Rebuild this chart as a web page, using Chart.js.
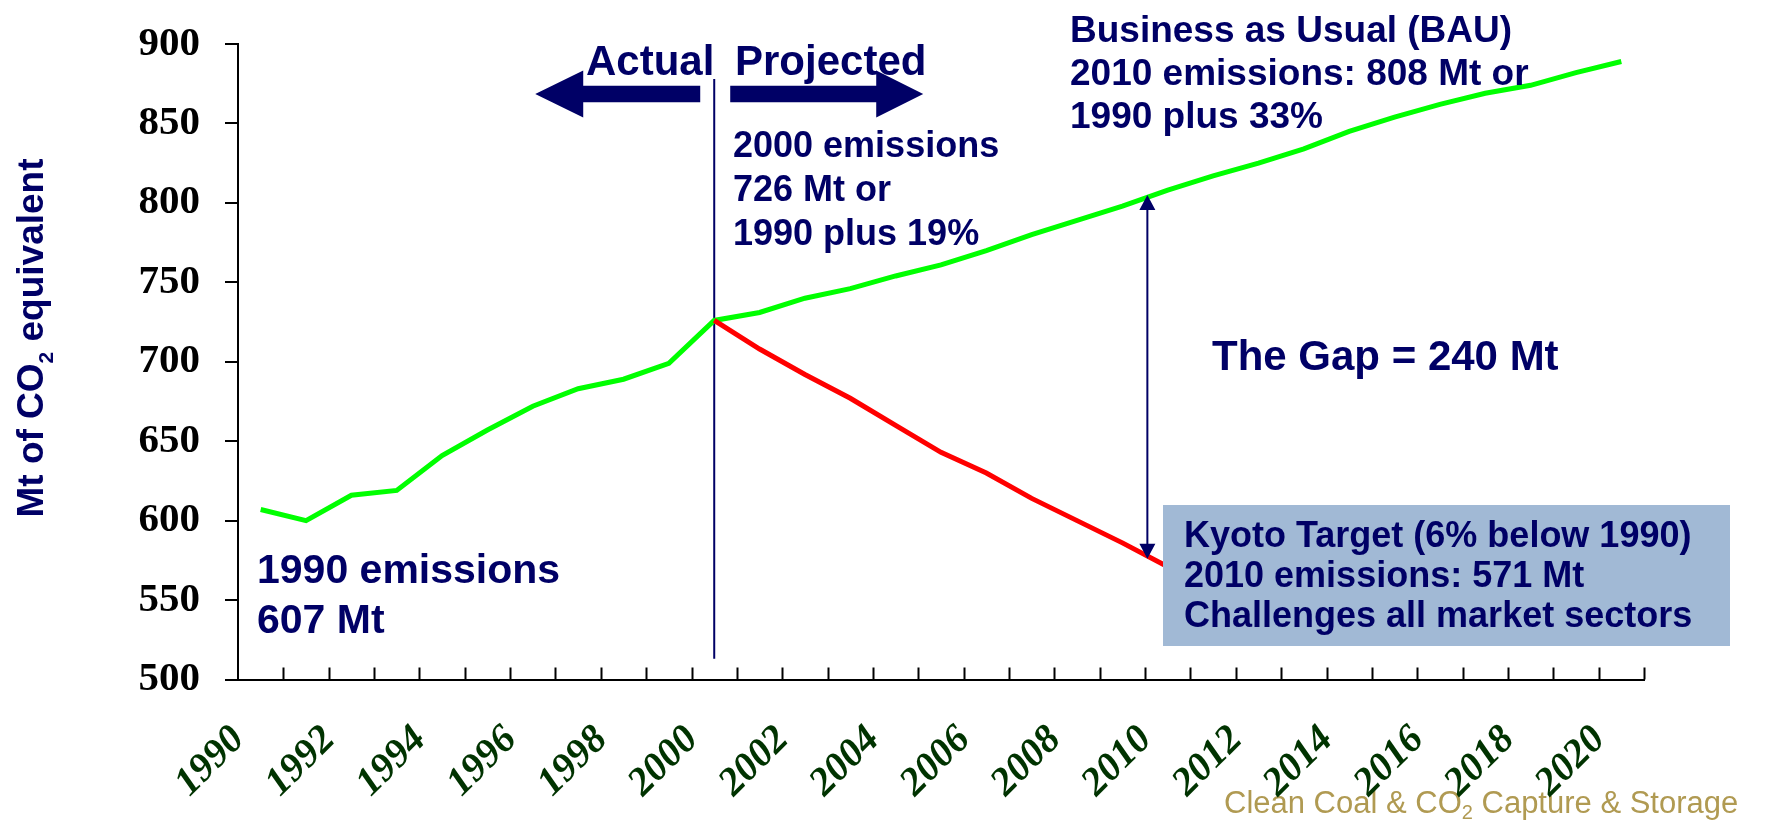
<!DOCTYPE html>
<html>
<head>
<meta charset="utf-8">
<script src="https://cdn.jsdelivr.net/npm/chart.js@4.4.1/dist/chart.umd.min.js"></script>
<style>
    html, body { margin: 0; padding: 0; background: #fff; }
</style>
</head>
<body>
<canvas id="myChart" width="1771" height="820"></canvas>

<script>
    // data (Mt of CO2 equivalent)
    var years = ['1990', '1991', '1992', '1993', '1994', '1995', '1996', '1997', '1998', '1999',
        '2000', '2001', '2002', '2003', '2004', '2005', '2006', '2007', '2008', '2009',
        '2010', '2011', '2012', '2013', '2014', '2015', '2016', '2017', '2018', '2019', '2020'];
    var bauValues = [607, 600, 616, 619, 641, 657, 672, 683, 689, 699,
        726, 731, 740, 746, 754, 761, 770, 780, 789, 798,
        808, 817, 825, 834, 845, 854, 862, 869, 874, 882, 889];
    var kyotoValues = [null, null, null, null, null, null, null, null, null, null,
        726, 708, 692, 677, 660, 643, 630, 614, 600, 586,
        571, null, null, null, null, null, null, null, null, null, null];
    var yTicks = [500, 550, 600, 650, 700, 750, 800, 850, 900];

    var navy = '#000066';
    var sans = '"Liberation Sans", Arial, sans-serif';

    // draws text pieces one after another, [text, font, dy]
    function textParts(ctx, parts, x, y) {
        parts.forEach(function (p) {
            ctx.font = p[1];
            ctx.fillText(p[0], x, y + (p[2] || 0));
            x += ctx.measureText(p[0]).width;
        });
    }
    function partsWidth(ctx, parts) {
        var w = 0;
        parts.forEach(function (p) { ctx.font = p[1]; w += ctx.measureText(p[0]).width; });
        return w;
    }
    function lines(ctx, arr, x, y, gap, font) {
        ctx.font = font;
        for (var i = 0; i < arr.length; i++) ctx.fillText(arr[i], x, y + i * gap);
    }

    var notes = {
        id: 'notes',
        beforeDraw: function (chart) {
            var ctx = chart.ctx;
            ctx.save();
            ctx.fillStyle = '#b09a52';
            ctx.textAlign = 'left';
            ctx.textBaseline = 'alphabetic';
            textParts(ctx, [['Clean Coal & CO', '31px ' + sans], ['2', '20px ' + sans, 6],
                [' Capture & Storage', '31px ' + sans]], 1224, 813);
            ctx.restore();
        },
        beforeDatasetsDraw: function (chart) {
            var ctx = chart.ctx, xs = chart.scales.x, ys = chart.scales.y;
            var d = xs.getPixelForValue(10);
            ctx.save();
            ctx.strokeStyle = navy;
            ctx.lineWidth = 2;
            ctx.beginPath();
            ctx.moveTo(d, 79);
            ctx.lineTo(d, ys.getPixelForValue(513));
            ctx.stroke();
            ctx.restore();
        },
        afterDatasetsDraw: function (chart) {
            var ctx = chart.ctx, xs = chart.scales.x, ys = chart.scales.y;
            var area = chart.chartArea;
            ctx.save();

            // inward tick marks on the year axis
            ctx.strokeStyle = '#000';
            ctx.lineWidth = 2;
            ctx.beginPath();
            for (var i = 1; i <= years.length; i++) {
                var tx = Math.round(xs.getPixelForValue(i - 0.5)) + 0.5;
                ctx.moveTo(tx, area.bottom);
                ctx.lineTo(tx, area.bottom - 12);
            }
            ctx.stroke();

            // Actual / Projected arrows
            var d = xs.getPixelForValue(10), c = 94;
            ctx.fillStyle = navy;
            ctx.beginPath();
            ctx.moveTo(d - 14, c - 8.3); ctx.lineTo(d - 131, c - 8.3); ctx.lineTo(d - 131, c - 23.5);
            ctx.lineTo(d - 179, c); ctx.lineTo(d - 131, c + 23.5); ctx.lineTo(d - 131, c + 8.3);
            ctx.lineTo(d - 14, c + 8.3); ctx.closePath(); ctx.fill();
            ctx.beginPath();
            ctx.moveTo(d + 16, c - 8.3); ctx.lineTo(d + 162, c - 8.3); ctx.lineTo(d + 162, c - 23.5);
            ctx.lineTo(d + 209, c); ctx.lineTo(d + 162, c + 23.5); ctx.lineTo(d + 162, c + 8.3);
            ctx.lineTo(d + 16, c + 8.3); ctx.closePath(); ctx.fill();

            // the gap arrow
            var gx = xs.getPixelForValue(19.55);
            var gTop = ys.getPixelForValue(805), gBot = ys.getPixelForValue(576);
            ctx.strokeStyle = navy;
            ctx.lineWidth = 2;
            ctx.beginPath();
            ctx.moveTo(gx, gTop + 10);
            ctx.lineTo(gx, gBot - 10);
            ctx.stroke();
            ctx.beginPath();
            ctx.moveTo(gx, gTop); ctx.lineTo(gx - 8, gTop + 15); ctx.lineTo(gx + 8, gTop + 15); ctx.closePath();
            ctx.moveTo(gx, gBot); ctx.lineTo(gx - 8, gBot - 15); ctx.lineTo(gx + 8, gBot - 15); ctx.closePath();
            ctx.fill();

            // Kyoto box
            ctx.fillStyle = '#a1b9d5';
            ctx.fillRect(1163, 505, 567, 141);

            ctx.fillStyle = navy;
            ctx.textAlign = 'left';
            ctx.textBaseline = 'alphabetic';
            lines(ctx, ['Actual'], 586, 75, 0, 'bold 42px ' + sans);
            lines(ctx, ['Projected'], 735, 75, 0, 'bold 42px ' + sans);
            lines(ctx, ['2000 emissions', '726 Mt or', '1990 plus 19%'], 733, 157, 44, 'bold 36px ' + sans);
            lines(ctx, ['Business as Usual (BAU)', '2010 emissions: 808 Mt or', '1990 plus 33%'], 1070, 42, 43, 'bold 37px ' + sans);
            lines(ctx, ['The Gap = 240 Mt'], 1212, 370, 0, 'bold 42px ' + sans);
            lines(ctx, ['1990 emissions', '607 Mt'], 257, 583, 50, 'bold 41px ' + sans);
            lines(ctx, ['Kyoto Target (6% below 1990)', '2010 emissions: 571 Mt', 'Challenges all market sectors'],
                1184, 547, 40, 'bold 36px ' + sans);

            // y axis title with subscript
            var title = [['Mt of CO', 'bold 37px ' + sans], ['2', 'bold 21px ' + sans, 10],
                [' equivalent', 'bold 37px ' + sans]];
            ctx.translate(43, 338);
            ctx.rotate(-Math.PI / 2);
            textParts(ctx, title, -partsWidth(ctx, title) / 2, 0);
            ctx.restore();
        }
    };

    var ctx = document.getElementById('myChart').getContext('2d');
    var chart = new Chart(ctx, {
        type: 'line',
        data: {
            labels: years,
            datasets: [{
                label: 'Kyoto target',
                data: kyotoValues,
                borderColor: '#ff0000',
                borderWidth: 5,
                pointRadius: 0,
                tension: 0,
                order: 0
            }, {
                label: 'Business as usual',
                data: bauValues,
                borderColor: '#00ff00',
                borderWidth: 5,
                pointRadius: 0,
                tension: 0,
                order: 1
            }]
        },
        options: {
            responsive: false,
            animation: false,
            devicePixelRatio: 1,
            layout: { padding: { left: 0, top: 44, right: 127, bottom: 0 } },
            plugins: {
                legend: { display: false },
                tooltip: { enabled: false }
            },
            scales: {
                x: {
                    offset: true,
                    grid: { display: false },
                    border: { display: true, color: '#000', width: 2 },
                    ticks: {
                        autoSkip: false,
                        minRotation: 45,
                        maxRotation: 45,
                        padding: 29,
                        labelOffset: -22,
                        color: '#003300',
                        font: { family: '"Liberation Serif", "Times New Roman", serif', size: 40, weight: 'bold', style: 'italic' },
                        callback: function (v, i) { return i % 2 === 0 ? years[i] : ''; }
                    },
                    afterFit: function (scale) { scale.height = 140.5; }
                },
                y: {
                    min: yTicks[0],
                    max: yTicks[yTicks.length - 1],
                    grid: { drawOnChartArea: false, drawTicks: true, tickLength: 13, color: '#000', lineWidth: 2 },
                    border: { display: true, color: '#000', width: 2 },
                    afterBuildTicks: function (scale) {
                        scale.ticks = yTicks.map(function (v) { return { value: v }; });
                    },
                    ticks: {
                        padding: 25,
                        color: '#000',
                        font: { family: '"Liberation Serif", "Times New Roman", serif', size: 41, weight: 'bold' }
                    },
                    afterFit: function (scale) {
                        scale.width = 238;
                        scale.paddingTop = 20;
                        scale.paddingBottom = 20;
                    }
                }
            }
        },
        plugins: [notes]
    });
</script>
</body>
</html>
